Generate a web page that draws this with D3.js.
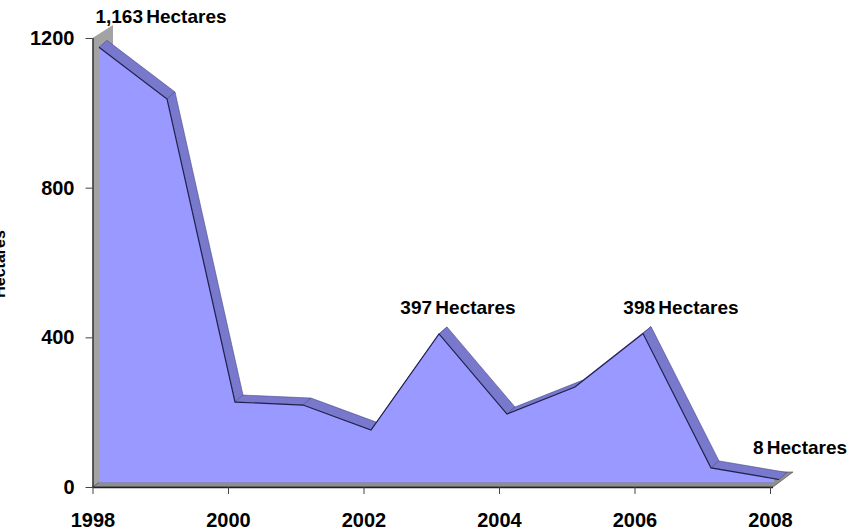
<!DOCTYPE html>
<html><head><meta charset="utf-8">
<script src="https://cdn.jsdelivr.net/npm/d3@7/dist/d3.min.js"></script>
<style>html,body{margin:0;padding:0;background:#fff}svg{display:block}text{font-family:"Liberation Sans",Arial,sans-serif;font-weight:bold;fill:#000}</style>
</head><body><svg id="c" width="852" height="532"></svg>
<script>
const years=[1998,1999,2000,2001,2002,2003,2004,2005,2006,2007,2008];
const hectares=[1163,1025,215,207,140,397,183,255,398,39,8];
const xTicks=[1998,2000,2002,2004,2006,2008];
const yTicks=[0,400,800,1200];
const labelYears=[1998,2003,2006,2008];
const labelTexts=["1,163 Hectares","397 Hectares","398 Hectares","8 Hectares"];
const yTitle="Hectares";

const svg=d3.select("#c");
const xAxisScale=d3.scaleLinear().domain([1998,2008]).range([92.5,770]);
const xFront=d3.scaleLinear().domain([1998,2008]).range([99,779]);
const y=d3.scaleLinear().domain([0,1200]).range([487,38]);
const frontDy=-4.5, depth=[8,-7];
const yF=v=>y(v)+frontDy;
const floorY=y(0)+frontDy;

// back wall and floor
svg.append("path").attr("fill","#a3a3a3").attr("d",
 `M${xAxisScale(1998)},${y(0)}L${xAxisScale(1998)},${y(1200)}L${xFront(1998)+14},${y(1200)-13}L${xFront(1998)+14},${y(1200)+10}L${xFront(1998)},${y(0)}Z`);
svg.append("path").attr("fill","#8e8e8e").attr("stroke","#444").attr("stroke-width",.6).attr("d",
 `M${xAxisScale(1998)},${y(0)}L${xAxisScale(2008)+3},${y(0)}L${xFront(2008)+14},${y(0)-15}L${xFront(2008)-6},${y(0)-15}L${xFront(2008)-6},${floorY}L${xFront(1998)},${floorY}Z`);

// ridge segments
const pts=years.map((yr,i)=>[xFront(yr),yF(hectares[i])]);
d3.pairs(pts).forEach(([a,b])=>{
  svg.append("path").attr("fill","#7878cc").attr("stroke","#4a4a8c").attr("stroke-width",.6)
   .attr("d",`M${a[0]},${a[1]}L${a[0]+depth[0]},${a[1]+depth[1]}L${b[0]+depth[0]},${b[1]+depth[1]}L${b[0]},${b[1]}Z`);
});

// front area, clipped to the floor's front edge
const series=years.map((yr,i)=>[yr,hectares[i]]);
const area=d3.area().x(d=>xFront(d[0])).y0(floorY).y1(d=>yF(d[1]));
svg.append("clipPath").attr("id","fr").append("rect").attr("x",0).attr("y",0).attr("width",xFront(2008)-5).attr("height",532);
svg.append("path").datum(series).attr("clip-path","url(#fr)").attr("fill","#9999ff").attr("d",area);
const line=d3.line().x(d=>xFront(d[0])).y(d=>yF(d[1]));
svg.append("path").datum(series).attr("fill","none").attr("stroke","#20204e").attr("stroke-width",1.2).attr("d",line);

// axes
const gx=svg.append("g").attr("transform",`translate(0,${y(0)})`).call(d3.axisBottom(xAxisScale).tickValues(xTicks).tickFormat(d3.format("d")).tickSize(7).tickPadding(19));
const gy=svg.append("g").attr("transform",`translate(${xAxisScale(1998)},0)`).call(d3.axisLeft(y).tickValues(yTicks).tickFormat(d3.format("d")).tickSize(7).tickPadding(11));
[gx,gy].forEach(g=>{g.selectAll("text").style("font-size","20px").style("font-family","'Liberation Sans'").style("font-weight","bold").attr("fill","#000");
 g.selectAll("line").attr("stroke","#444");g.select(".domain").attr("stroke","#222").attr("stroke-width",1.3);});
gx.select(".domain").attr("d",`M${xAxisScale(1998)},0.5H${xAxisScale(2008)+3}`);
gy.select(".domain").attr("d",`M0.5,${y(1200)}V${y(0)}`);

// annotations
labelYears.forEach((yr,i)=>{
  const v=hectares[years.indexOf(yr)];
  const anchorDx=[62,19,38,21][i], dy=[-24.5,-20,-20,-26][i];
  svg.append("text").attr("x",xFront(yr)+anchorDx).attr("y",yF(v)+dy).attr("text-anchor","middle").style("font-size","19px").style("word-spacing","-2px").text(labelTexts[i]);
});
svg.append("text").attr("transform",`translate(5,264) rotate(-90)`).attr("text-anchor","middle").style("font-size","16px").text(yTitle);
</script></body></html>
